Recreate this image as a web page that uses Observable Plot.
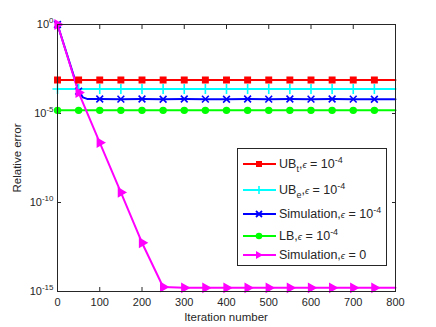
<!DOCTYPE html>
<html>
<head>
<meta charset="utf-8">
<script src="https://cdn.jsdelivr.net/npm/d3@7"></script>
<script src="https://cdn.jsdelivr.net/npm/@observablehq/plot@0.6"></script>
<style>
  html, body { margin: 0; padding: 0; background: #fff; }
  #wrap { position: relative; width: 436px; height: 327px; font-family: "Liberation Sans", Arial, sans-serif; color: #262626; }
  #legend { position: absolute; left: 237px; top: 148px; width: 150px; height: 118px; border: 1px solid #262626; background: #fff; box-sizing: border-box; }
  .row { position: absolute; left: 5px; height: 16px; display: flex; align-items: center; font-size: 12.5px; white-space: nowrap; }
  .row svg { margin-right: 3px; }
  .eps { font-size: 9.5px; font-style: italic; }
  sub, sup { font-size: 9px; line-height: 0; }
  .xlabel { position: absolute; left: 0; width: 452px; top: 311px; text-align: center; font-size: 11.5px; }
  .ylabel { position: absolute; left: 17px; top: 158px; transform: translate(-50%, -50%) rotate(-90deg); font-size: 11.5px; white-space: nowrap; }
</style>
</head>
<body>
<div id="wrap"></div>
<script>
// ---- data ----
const iters = [0, 50, 100, 150, 200, 250, 300, 350, 400, 450, 500, 550, 600, 650, 700, 750, 800];
const ubT   = [7.6e-4, 7.6e-4, 7.6e-4, 7.6e-4, 7.6e-4, 7.6e-4, 7.6e-4, 7.6e-4, 7.6e-4, 7.6e-4, 7.6e-4, 7.6e-4, 7.6e-4, 7.6e-4, 7.6e-4, 7.6e-4, 7.6e-4];
const ubE   = [2.4e-4, 2.4e-4, 2.4e-4, 2.4e-4, 2.4e-4, 2.4e-4, 2.4e-4, 2.4e-4, 2.4e-4, 2.4e-4, 2.4e-4, 2.4e-4, 2.4e-4, 2.4e-4, 2.4e-4, 2.4e-4, 2.4e-4];
const lb    = [1.5e-5, 1.5e-5, 1.5e-5, 1.5e-5, 1.5e-5, 1.5e-5, 1.5e-5, 1.5e-5, 1.5e-5, 1.5e-5, 1.5e-5, 1.5e-5, 1.5e-5, 1.5e-5, 1.5e-5, 1.5e-5, 1.5e-5];
const simEpsIters = [0, 50, 60, 70, 100, 150, 200, 250, 300, 350, 400, 450, 500, 550, 600, 650, 700, 750, 800];
const simEps      = [1, 1.8e-4, 8e-5, 6.6e-5, 6.5e-5, 6.4e-5, 6.5e-5, 6.3e-5, 6.5e-5, 6.4e-5, 6.3e-5, 6.5e-5, 6.4e-5, 6.5e-5, 6.4e-5, 6.5e-5, 6.4e-5, 6.3e-5, 6.4e-5];
const sim0  = [1, 1.5e-4, 2.3e-7, 3.7e-10, 5.5e-13, 1.8e-15, 1.6e-15, 1.6e-15, 1.6e-15, 1.6e-15, 1.6e-15, 1.6e-15, 1.6e-15, 1.6e-15, 1.6e-15, 1.6e-15, 1.6e-15];
const xTicks = [0, 100, 200, 300, 400, 500, 600, 700, 800];
const yTicks = [1, 1e-5, 1e-10, 1e-15];
const yTickExp = ["0", "-5", "-10", "-15"];

const series = [
  {key: "ubT",  x: iters,       y: ubT,    color: "#ff0000", symbol: "square", fill: "#ff0000", r: 3.6, rotate: 0},
  {key: "ubE",  x: iters,       y: ubE,    color: "#00ffff", symbol: "plus",   fill: "none",    r: 4.5, rotate: 0},
  {key: "simE", x: simEpsIters, y: simEps, color: "#0000ff", symbol: "times",  fill: "none",    r: 4,   rotate: 0},
  {key: "lb",   x: iters,       y: lb,     color: "#00ff00", symbol: "circle", fill: "#00ff00", r: 3.4, rotate: 0},
  {key: "sim0", x: iters,       y: sim0,   color: "#ff00ff", symbol: "triangle", fill: "#ff00ff", r: 3.6, rotate: 90}
];

const lineRows = [];
const markRows = [];
for (const s of series) {
  s.x.forEach((xv, i) => {
    const row = {key: s.key, x: xv, y: s.y[i], color: s.color, symbol: s.symbol, fill: s.fill, r: s.r, rotate: s.rotate};
    lineRows.push(row);
    if (xv % 50 === 0 && xv < 800) markRows.push(row);
  });
}

const dark = "#262626";
const tk = 4;
const plot = Plot.plot({
  width: 436,
  height: 327,
  marginLeft: 57,
  marginRight: 41,
  marginTop: 24,
  marginBottom: 36,
  style: {fontFamily: "Liberation Sans, Arial, sans-serif", fontSize: "11px", color: dark, background: "#fff"},
  x: {domain: [0, 800]},
  y: {type: "log", domain: [1e-15, 1]},
  marks: [
    Plot.axisX({anchor: "bottom", ticks: xTicks, tickSize: 0, tickPadding: 7, label: null, tickFormat: d => String(d), fill: dark}),
    Plot.axisY({anchor: "left", ticks: yTicks, tickSize: 0, tickPadding: 4, label: null, fill: dark,
      tickFormat: d => "10|" + yTickExp[yTicks.indexOf(d)]}),
    // inward tick marks on all four sides
    Plot.axisX({anchor: "bottom", ticks: xTicks, tickSize: tk, dy: -tk, text: null, label: null, stroke: dark}),
    Plot.axisX({anchor: "top", ticks: xTicks, tickSize: tk, dy: tk, text: null, label: null, stroke: dark}),
    Plot.axisY({anchor: "left", ticks: yTicks, tickSize: tk, dx: tk, text: null, label: null, stroke: dark}),
    Plot.axisY({anchor: "right", ticks: yTicks, tickSize: tk, dx: -tk, text: null, label: null, stroke: dark}),
    Plot.line(lineRows, {x: "x", y: "y", z: "key", stroke: "color", strokeWidth: 2}),
    Plot.dot(markRows, {x: "x", y: "y", symbol: "symbol", stroke: "color", fill: "fill", r: "r", rotate: "rotate", strokeWidth: 1.6}),
    Plot.frame({stroke: dark, strokeWidth: 1})
  ]
});

// superscript exponents on y tick labels
plot.querySelectorAll('g[aria-label="y-axis tick label"] text').forEach(t => {
  const parts = t.textContent.split("|");
  if (parts.length !== 2) return;
  t.textContent = "";
  const ns = "http://www.w3.org/2000/svg";
  const base = document.createElementNS(ns, "tspan");
  base.textContent = parts[0];
  const sup = document.createElementNS(ns, "tspan");
  sup.textContent = parts[1];
  sup.setAttribute("dy", "-5");
  sup.setAttribute("font-size", "8px");
  t.appendChild(base);
  t.appendChild(sup);
});

const wrap = document.getElementById("wrap");
wrap.appendChild(plot);

// axis labels
const xl = document.createElement("div");
xl.className = "xlabel"; xl.textContent = "Iteration number";
wrap.appendChild(xl);
const yl = document.createElement("div");
yl.className = "ylabel"; yl.textContent = "Relative error";
wrap.appendChild(yl);

// legend
const legendEntries = [
  {html: 'UB<sub>t</sub>,<span class="eps">ϵ</span> = 10<sup>-4</sup>', s: 0, y: 7},
  {html: 'UB<sub>e</sub>,<span class="eps">ϵ</span> = 10<sup>-4</sup>', s: 1, y: 33},
  {html: 'Simulation,<span class="eps">ϵ</span> = 10<sup>-4</sup>', s: 2, y: 57},
  {html: 'LB,<span class="eps">ϵ</span> = 10<sup>-4</sup>', s: 3, y: 79},
  {html: 'Simulation,<span class="eps">ϵ</span> = 0', s: 4, y: 98}
];
const legend = document.createElement("div");
legend.id = "legend";
function markerSvg(s) {
  const c = s.color, cx = 16, cy = 5;
  let m = "";
  if (s.symbol === "square") m = `<rect x="${cx-3}" y="${cy-3}" width="6" height="6" fill="${c}"/>`;
  else if (s.symbol === "plus") m = `<path d="M${cx-4},${cy}H${cx+4}M${cx},${cy-4}V${cy+4}" stroke="${c}" stroke-width="1.6"/>`;
  else if (s.symbol === "times") m = `<path d="M${cx-3},${cy-3}L${cx+3},${cy+3}M${cx+3},${cy-3}L${cx-3},${cy+3}" stroke="${c}" stroke-width="1.8"/>`;
  else if (s.symbol === "circle") m = `<circle cx="${cx}" cy="${cy}" r="3.3" fill="${c}"/>`;
  else m = `<path d="M${cx-3},${cy-4}L${cx+4},${cy}L${cx-3},${cy+4}Z" fill="${c}"/>`;
  return `<svg width="33" height="10"><line x1="0" x2="33" y1="5" y2="5" stroke="${c}" stroke-width="2"/>${m}</svg>`;
}
for (const e of legendEntries) {
  const r = document.createElement("div");
  r.className = "row";
  r.style.top = e.y + "px";
  r.innerHTML = markerSvg(series[e.s]) + "<span>" + e.html + "</span>";
  legend.appendChild(r);
}
wrap.appendChild(legend);
</script>
</body>
</html>
